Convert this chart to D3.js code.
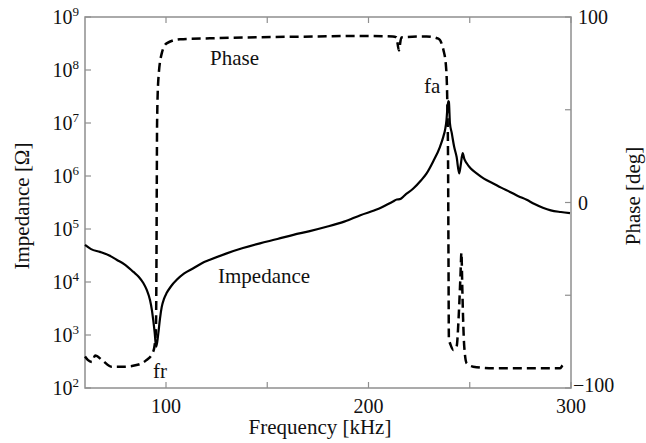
<!DOCTYPE html>
<html><head><meta charset="utf-8">
<script src="https://cdn.jsdelivr.net/npm/d3@7"></script>
<style>body{margin:0;background:#fff}svg{display:block}</style>
</head><body><svg id="c" width="646" height="443" font-family="'Liberation Serif', 'DejaVu Serif', serif"></svg>
<script>
// Impedance curve (kHz, Ohm)
const impFreq = [60,63,67.4,72,75.6,80,83.9,86.5,88.8,90.5,92.1,93.0,93.7,94.4,95.1,95.6,96.2,97.0,97.9,99.0,100.3,102.5,105.3,109,113.5,117.5,121.7,130,138,146.4,155,162.9,171,179.3,188,196,205,212.1,214,215.5,218,222,226,228.7,232,235.3,237,237.8,238.5,238.9,239.4,239.7,240.2,241.1,242.3,243.5,244.8,245.5,246.5,247.3,248.5,250.5,253.4,257,261.6,265.5,269.9,274,278.1,282,286.1,290,295,299.5];
const impedance = [50000,41700,37000,31600,26300,20900,15500,12600,9550,7080,4570,3020,1900,1120,600,710,1070,2000,3390,4790,6170,8320,11000,14500,18200,22400,26300,34700,43700,53700,64600,77600,91200,110000,138000,182000,240000,331000,360000,365000,437000,575000,832000,1120000,1900000,3550000,5600000,7400000,11200000,17800000,26000000,25000000,10000000,6500000,3550000,2300000,1120000,1580000,2700000,2100000,1740000,1380000,1120000,890000,724000,603000,501000,417000,355000,295000,251000,224000,209000,200000];
// Phase curve (kHz, deg)
const phaseFreq = [60,61.5,63.5,65,68.5,73,79.5,86,90.3,93.7,95.0,95.3,95.45,95.6,96.2,97.9,100.3,106.9,121.7,146.4,175,195.8,212,213.8,215.0,216.2,228.7,234.5,237,238.3,238.9,239.3,239.5,239.7,240.3,241.9,243.5,244.6,245.4,245.9,246.3,246.7,247.3,248.5,251.7,261.6,280,294.5,296.2,297.5];
const phase = [-83,-85,-86,-82.5,-85,-88.5,-88.5,-87.5,-85,-80.4,-70,-30,10,43,66,80.4,85.8,88,88.5,89.1,89.5,89.8,89.5,89,82,89,89.5,88.3,82.2,73,55,20,-30,-74,-76,-79.5,-77.7,-60,-40,-27,-45,-62,-78,-86.7,-88.5,-89.4,-89.4,-89.4,-87.6,-88.5];
// Ticks
const xTicks = [100,150,200,250,300];
const xTickLabels = [100,200,300];
const yExponents = [2,3,4,5,6,7,8,9];
const phaseTicks = [-100,-50,0,50,100];
const phaseTickLabels = ["\u2212100","0","100"];
const phaseLabelValues = [-100,0,100];

const svg = d3.select("#c");
const L=85,R=571,T=17,B=388;
const x = d3.scaleLinear().domain([60,300]).range([L,R]);
const yL = d3.scaleLog().domain([1e2,1e9]).range([B,T]);
const yR = d3.scaleLinear().domain([-100,100]).range([B,T]);
const axisCol = "#8f8f8f";
const fs = 20, fsT = 21;

svg.append("rect").attr("x",L).attr("y",T).attr("width",R-L).attr("height",B-T)
  .attr("fill","none").attr("stroke",axisCol).attr("stroke-width",1.5);

const tl = 6;
xTicks.forEach(v=>{
  svg.append("line").attr("x1",x(v)).attr("x2",x(v)).attr("y1",B).attr("y2",B-tl).attr("stroke",axisCol).attr("stroke-width",1.2);
  svg.append("line").attr("x1",x(v)).attr("x2",x(v)).attr("y1",T).attr("y2",T+tl).attr("stroke",axisCol).attr("stroke-width",1.2);
});
xTickLabels.forEach(v=>{
  svg.append("text").attr("x",x(v)).attr("y",413).attr("text-anchor","middle").attr("font-size",fs).attr("fill","#111").text(v);
});
yExponents.forEach(e=>{
  const yy = yL(Math.pow(10,e));
  svg.append("line").attr("x1",L).attr("x2",L+tl).attr("y1",yy).attr("y2",yy).attr("stroke",axisCol).attr("stroke-width",1.2);
  const t = svg.append("text").attr("x",79).attr("y",yy+7).attr("text-anchor","end").attr("font-size",fs).attr("fill","#111");
  t.append("tspan").text("10");
  t.append("tspan").attr("dy",-8).attr("font-size",13).text(e);
});
phaseTicks.forEach(v=>{
  svg.append("line").attr("x1",R).attr("x2",R-tl).attr("y1",yR(v)).attr("y2",yR(v)).attr("stroke",axisCol).attr("stroke-width",1.2);
});
phaseLabelValues.forEach((v,i)=>{
  svg.append("text").attr("x", v<0?573:578).attr("y",v<0?yR(v)+4:yR(v)+7).attr("font-size",fs).attr("fill","#111").text(phaseTickLabels[i]);
});

svg.append("text").attr("x",320).attr("y",434).attr("text-anchor","middle").attr("font-size",fsT).attr("fill","#111").text("Frequency [kHz]");
svg.append("text").attr("transform","translate(29,206) rotate(-90)").attr("text-anchor","middle").attr("font-size",fsT).attr("fill","#111").text("Impedance [\u03A9]");
svg.append("text").attr("transform","translate(640,196) rotate(-90)").attr("text-anchor","middle").attr("font-size",fsT).attr("fill","#111").text("Phase [deg]");

const impLine = d3.line().x((d,i)=>x(impFreq[i])).y(d=>yL(d)).curve(d3.curveMonotoneX);
svg.append("path").attr("d",impLine(impedance)).attr("fill","none").attr("stroke","#000").attr("stroke-width",2.2).attr("stroke-linejoin","round");
const phLine = d3.line().x((d,i)=>x(phaseFreq[i])).y(d=>yR(d)).curve(d3.curveMonotoneX);
svg.append("path").attr("d",phLine(phase)).attr("fill","none").attr("stroke","#000").attr("stroke-width",2.5).attr("stroke-dasharray","9,5");

svg.append("text").attr("x",210).attr("y",65).attr("font-size",fsT).attr("fill","#111").text("Phase");
svg.append("text").attr("x",218).attr("y",283).attr("font-size",fsT).attr("fill","#111").text("Impedance");
svg.append("text").attr("x",153).attr("y",378).attr("font-size",fsT).attr("fill","#111").text("fr");
svg.append("text").attr("x",424).attr("y",93).attr("font-size",fsT).attr("fill","#111").text("fa");
</script></body></html>
